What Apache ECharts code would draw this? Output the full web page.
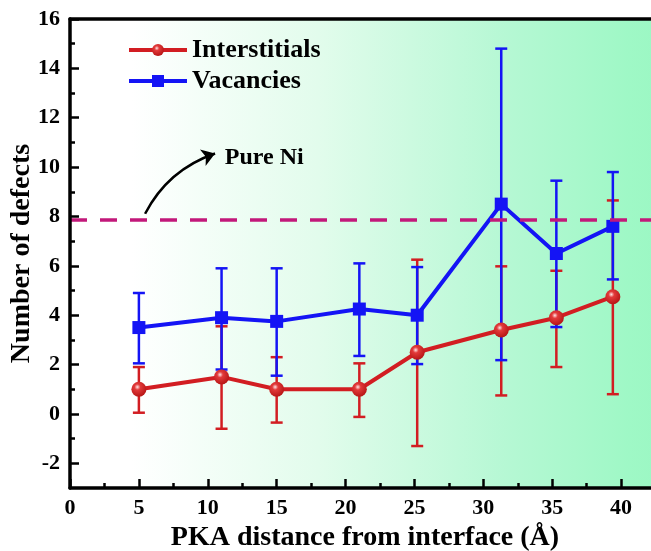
<!DOCTYPE html>
<html>
<head>
<meta charset="utf-8">
<script src="https://cdn.jsdelivr.net/npm/echarts@6/dist/echarts.min.js"></script>
<style>
  html, body { margin: 0; padding: 0; background: #fff; }
  #chart { width: 651px; height: 551px; }
</style>
</head>
<body>
<div id="chart"></div>
<script>
// PKA distance (Å)
var distance = [5, 11, 15, 21, 25.2, 31.3, 35.3, 39.4];

var interstitials = [1.0, 1.5, 1.0, 1.0, 2.5, 3.4, 3.9, 4.75];
var interLow = [0.05, -0.6, -0.35, -0.12, -1.3, 0.75, 1.9, 0.8];
var interHigh = [1.9, 3.55, 2.3, 2.05, 6.25, 5.98, 5.8, 8.65];

var vacancies = [3.5, 3.9, 3.75, 4.25, 4.0, 8.5, 6.5, 7.6];
var vacLow = [2.05, 1.8, 1.55, 2.35, 2.02, 2.18, 3.52, 5.45];
var vacHigh = [4.9, 5.9, 5.9, 6.1, 5.95, 14.8, 9.45, 9.8];

var pureNi = 7.85;

var yMajor = [-2, 0, 2, 4, 6, 8, 10, 12, 14, 16];
var yMinor = [-1, 1, 3, 5, 7, 9, 11, 13, 15];

var serif = 'Liberation Serif, Times New Roman, serif';

function pairs(ys) {
  return distance.map(function (x, i) { return [x, ys[i]]; });
}
function bars(lo, hi) {
  return distance.map(function (x, i) { return [x, lo[i], hi[i]]; });
}

function errorBar(color) {
  return function (params, api) {
    var x = api.value(0);
    var lo = api.coord([x, api.value(1)]);
    var hi = api.coord([x, api.value(2)]);
    var w = 6;
    var style = { stroke: color, lineWidth: 2.5 };
    return {
      type: 'group',
      children: [
        { type: 'line', shape: { x1: hi[0], y1: hi[1], x2: lo[0], y2: lo[1] }, style: style },
        { type: 'line', shape: { x1: hi[0] - w, y1: hi[1], x2: hi[0] + w, y2: hi[1] }, style: style },
        { type: 'line', shape: { x1: lo[0] - w, y1: lo[1], x2: lo[0] + w, y2: lo[1] }, style: style }
      ]
    };
  };
}

var red = '#d21d22';
var blue = '#1414f5';
var axisStyle = { color: '#000', width: 3.5 };
var tickStyle = { color: '#000', width: 2.5 };

var chart = echarts.init(document.getElementById('chart'));

var option = {
  animation: false,
  grid: {
    left: 70, top: 19, width: 620, height: 469,
    outerBoundsMode: 'none',
    containLabel: false,
    show: false
  },
  graphic: [{
    type: 'rect', z: -10, silent: true,
    shape: { x: 70, y: 19, width: 620, height: 469 },
    style: {
      fill: {
        type: 'linear', x: 0, y: 0, x2: 1, y2: 0,
        colorStops: [
          { offset: 0, color: '#ffffff' },
          { offset: 0.1, color: '#ffffff' },
          { offset: 0.4, color: '#e2fcec' },
          { offset: 0.7, color: '#b6f8d4' },
          { offset: 0.9, color: '#9ff8c6' },
          { offset: 1, color: '#98f6c1' }
        ]
      }
    }
  }],
  legend: {
    orient: 'vertical',
    left: 122, top: 32,
    itemWidth: 58, itemHeight: 15, itemGap: 5,
    data: ['Interstitials', 'Vacancies'],
    lineStyle: { width: 4 },
    textStyle: { fontFamily: serif, fontWeight: 'bold', fontSize: 26, color: '#000' }
  },
  xAxis: [{
    type: 'value', min: 0, max: 45, interval: 5, z: 10,
    name: 'PKA distance from interface (Å)',
    nameLocation: 'middle', nameGap: 36, nameMoveOverlap: false,
    nameTextStyle: { fontFamily: serif, fontWeight: 'bold', fontSize: 28, color: '#000', padding: [0, 30, 0, 0] },
    axisLine: { show: true, onZero: false, lineStyle: axisStyle },
    axisTick: { show: true, inside: true, length: 9, lineStyle: tickStyle },
    minorTick: { show: true, splitNumber: 2, length: 5, lineStyle: tickStyle },
    axisLabel: { fontFamily: serif, fontWeight: 'bold', fontSize: 22, color: '#000', margin: 9, showMaxLabel: false },
    splitLine: { show: false }
  }, {
    type: 'value', min: 0, max: 45, position: 'top', z: 10,
    axisLine: { show: true, onZero: false, lineStyle: axisStyle },
    axisTick: { show: false }, axisLabel: { show: false }, splitLine: { show: false }
  }],
  yAxis: [{
    type: 'value', min: -3, max: 16, z: 10,
    name: 'Number of defects',
    nameLocation: 'middle', nameGap: 34, nameMoveOverlap: false,
    nameTextStyle: { fontFamily: serif, fontWeight: 'bold', fontSize: 28, color: '#000' },
    axisLine: { show: true, onZero: false, lineStyle: axisStyle },
    axisTick: { show: true, inside: true, length: 9, customValues: yMajor, lineStyle: tickStyle },
    axisLabel: { customValues: yMajor, fontFamily: serif, fontWeight: 'bold', fontSize: 22, color: '#000', margin: 10 },
    splitLine: { show: false }
  }, {
    type: 'value', min: -3, max: 16, position: 'left', z: 10,
    axisLine: { show: false, onZero: false },
    axisTick: { show: true, inside: true, length: 5, customValues: yMinor, lineStyle: tickStyle },
    axisLabel: { show: false },
    splitLine: { show: false }
  }],
  series: [
    {
      name: 'Pure Ni line', type: 'line', data: [],
      markLine: {
        silent: true, symbol: 'none', label: { show: false },
        lineStyle: { color: '#c2187a', width: 3.5, type: [17, 13], opacity: 1 },
        data: [{ yAxis: pureNi }]
      }
    },
    {
      type: 'lines', coordinateSystem: 'cartesian2d', silent: true,
      symbol: ['none', 'arrow'], symbolSize: 13,
      lineStyle: { color: '#000', width: 2.5, curveness: 0.2, opacity: 1 },
      data: [{ coords: [[5.45, 8.11], [10.53, 10.55]] }]
    },
    {
      type: 'scatter', symbolSize: 1, silent: true,
      itemStyle: { color: 'transparent', opacity: 1 },
      label: {
        show: true, position: 'right', distance: 0, formatter: 'Pure Ni',
        fontFamily: serif, fontWeight: 'bold', fontSize: 24, color: '#000'
      },
      data: [[11.2, 10.37]]
    },
    {
      name: 'Interstitials err', type: 'custom', renderItem: errorBar(red),
      encode: { x: 0, y: [1, 2] }, data: bars(interLow, interHigh), z: 2
    },
    {
      name: 'Vacancies err', type: 'custom', renderItem: errorBar(blue),
      encode: { x: 0, y: [1, 2] }, data: bars(vacLow, vacHigh), z: 2
    },
    {
      name: 'Interstitials', type: 'line', data: pairs(interstitials),
      symbol: 'circle', symbolSize: 15, z: 3,
      lineStyle: { color: red, width: 4 },
      itemStyle: {
        color: {
          type: 'radial', x: 0.4, y: 0.35, r: 0.65,
          colorStops: [
            { offset: 0, color: '#ffe6e6' },
            { offset: 0.3, color: '#e23a3a' },
            { offset: 1, color: '#b81616' }
          ]
        },
        borderWidth: 0
      }
    },
    {
      name: 'Vacancies', type: 'line', data: pairs(vacancies),
      symbol: 'rect', symbolSize: 13, z: 4,
      lineStyle: { color: blue, width: 4 },
      itemStyle: { color: blue, borderWidth: 0 }
    }
  ]
};

chart.setOption(option);
</script>
</body>
</html>
